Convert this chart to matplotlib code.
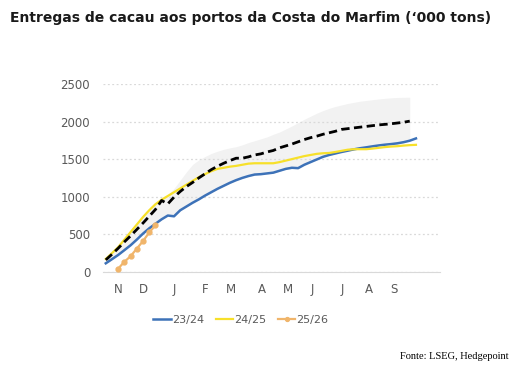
import numpy as np
import matplotlib.pyplot as plt

# weekly cumulative arrivals ('000 t), season starting mid-October
s2324 = [115, 170, 226, 290, 355, 430, 510, 580, 640, 700, 750, 740, 820, 870, 920, 965,
         1015, 1060, 1105, 1145, 1185, 1220, 1250, 1275, 1295, 1300, 1310, 1320, 1345, 1370,
         1385, 1380, 1425, 1460, 1495, 1530, 1555, 1575, 1595, 1612, 1630, 1645, 1657, 1670,
         1682, 1692, 1700, 1710, 1725, 1745, 1775]
s2425 = [173, 250, 330, 430, 530, 630, 730, 820, 900, 960, 1010, 1060, 1110, 1160, 1210, 1260,
         1300, 1340, 1370, 1385, 1400, 1410, 1425, 1440, 1445, 1445, 1445, 1445, 1460, 1480,
         1500, 1520, 1540, 1555, 1570, 1578, 1582, 1595, 1610, 1625, 1632, 1632, 1632, 1640,
         1650, 1660, 1667, 1672, 1680, 1686, 1690]
s2526 = [45, 135, 210, 310, 410, 525, 620]
s2526_start = 2
avg = [160, 235, 315, 400, 480, 565, 650, 740, 830, 950, 905, 995, 1070, 1135, 1190, 1250,
       1305, 1360, 1405, 1445, 1480, 1512, 1512, 1530, 1555, 1570, 1595, 1615, 1650, 1675,
       1700, 1730, 1760, 1785, 1805, 1830, 1850, 1870, 1895, 1905, 1915, 1925, 1935, 1945,
       1955, 1962, 1970, 1980, 1990, 2005]
band_hi = [175, 255, 335, 435, 535, 635, 735, 825, 905, 970, 1030, 1110, 1220, 1330, 1430, 1490,
           1535, 1575, 1605, 1630, 1650, 1665, 1690, 1720, 1745, 1770, 1795, 1830, 1860, 1900,
           1940, 1985, 2030, 2070, 2110, 2145, 2175, 2200, 2220, 2240, 2255, 2270, 2280, 2290,
           2300, 2308, 2315, 2320, 2322, 2323]
band_lo = [110, 165, 220, 285, 350, 425, 505, 575, 635, 695, 745, 735, 815, 865, 915, 960,
           1010, 1055, 1100, 1140, 1180, 1215, 1245, 1270, 1290, 1295, 1305, 1315, 1340, 1365,
           1380, 1375, 1420, 1455, 1490, 1525, 1550, 1570, 1590, 1607, 1625, 1640, 1650, 1662,
           1675, 1685, 1693, 1703, 1718, 1745]
month_labels = ['N', 'D', 'J', 'F', 'M', 'A', 'M', 'J', 'J', 'A', 'S']
month_weeks = [2, 6, 11, 16, 20.1, 25.2, 29.3, 33.3, 38.2, 42.4, 46.4]

fig = plt.figure(figsize=(5.16, 3.68), dpi=100)
ax = fig.add_axes([0.199, 0.261, 0.654, 0.511])

wk = np.arange(len(s2324))
wk_avg = np.arange(len(avg))
ax.fill_between(wk_avg, band_lo, band_hi, color='#f2f2f2', lw=0, zorder=1)
ax.plot(wk, s2324, color='#3d72b8', lw=1.8, label='23/24', zorder=3)
ax.plot(wk, s2425, color='#f7e02a', lw=1.6, label='24/25', zorder=3)
ax.plot(wk_avg, avg, color='black', lw=2, ls=(0, (3, 1.6)), zorder=4)
ax.plot(np.arange(len(s2526)) + s2526_start, s2526, color='#f0b56b', lw=1.6,
        marker='o', ms=3.5, label='25/26', zorder=5)

ax.set_xlim(-0.5, 53.9)
ax.set_ylim(0, 2500)
ax.set_yticks(range(0, 2501, 500))
ax.set_xticks(month_weeks)
ax.set_xticklabels(month_labels)
ax.tick_params(length=0, labelsize=8.5, labelcolor='#595959', pad=8)
ax.tick_params(axis='y', pad=9)
ax.grid(axis='y', color='#d9d9d9', ls=(0, (1.5, 2)), lw=0.9)
for sp in ['top', 'right', 'left']:
    ax.spines[sp].set_visible(False)
ax.spines['bottom'].set_color('#d9d9d9')

fig.text(0.02, 0.952, "Entregas de cacau aos portos da Costa do Marfim (\u2018000 tons)",
         fontsize=10, fontweight='bold', color='#1a1a1a', va='center')
fig.legend(loc='center', bbox_to_anchor=(0.467, 0.13), ncol=3, frameon=False,
           fontsize=8, labelcolor='#595959', handlelength=1.6, handletextpad=0.1,
           columnspacing=1.0, markerscale=0.8)
fig.text(0.985, 0.03, 'Fonte: LSEG, Hedgepoint', fontsize=7.5, family='Liberation Serif',
         ha='right', va='center')

fig.savefig('out.png', dpi=100)
